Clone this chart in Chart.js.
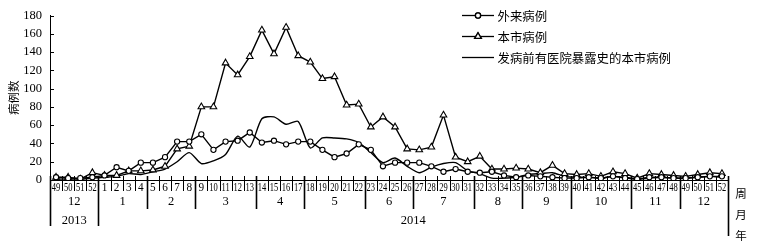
<!DOCTYPE html>
<html><head><meta charset="utf-8">
<script src="https://cdn.jsdelivr.net/npm/chart.js@4/dist/chart.umd.min.js"></script>
<style>html,body{margin:0;padding:0;background:#fff}#wrap{width:757px;height:249px}</style>
</head><body><div id="wrap"><canvas id="c" width="757" height="249"></canvas></div>
<script>
// ---- data ----
const weekLabels = ['49','50','51','52',
 '1','2','3','4','5','6','7','8','9','10','11','12','13','14','15','16','17','18','19','20',
 '21','22','23','24','25','26','27','28','29','30','31','32','33','34','35','36','37','38','39','40',
 '41','42','43','44','45','46','47','48','49','50','51','52'];
const monthLabels = ['12','1','2','3','4','5','6','7','8','9','10','11','12'];
const monthWeekCounts = [4,4,4,5,4,5,4,5,4,4,5,4,4];
const yearLabels = ['2013','2014'];
const yearWeekCounts = [4,52];
const seriesNames = ['外来病例','本市病例','发病前有医院暴露史的本市病例'];
const waiLai = [3,2,2,3,
 5,14,10,19,19,25,42,42,50,33,42,43,52,41,43,39,42,42,33,25,
 29,39,33,15,19,19,19,15,9,12,9,8,9,5,3,5,4,3,2,2,
 3,2,4,2,1,3,3,2,2,3,4,4];
const benShi = [3,3,1,8,
 5,5,10,10,11,15,34,37,80,80,128,115,135,164,138,167,136,129,111,113,
 82,83,58,69,58,34,33,36,71,25,20,26,12,12,13,12,8,16,7,6,
 7,4,9,7,2,7,6,5,4,6,8,7];
const hospital = [1,1,1,2,
 3,4,7,6,9,12,20,30,18,21,28,48,36,67,69,61,64,35,46,46,
 45,41,30,19,24,15,8,14,18,19,10,7,2,2,3,6,7,8,4,3,
 3,2,4,3,1,2,3,2,2,3,4,3];
const yTicks = [0,20,40,60,80,100,120,140,160,180];
const axisUnits = ['周','月','年'];

const NUM_FONT = '"Liberation Serif", "Times New Roman", serif';
const CJK_FONT = '"Noto Sans CJK SC", sans-serif';

const decor = {
  id: 'decor',
  afterDraw(chart) {
    const ctx = chart.ctx, xs = chart.scales.x, ys = chart.scales.y;
    const n = weekLabels.length;
    const bnd = i => i <= 0 ? xs.left : (i >= n ? xs.right : (xs.getPixelForValue(i-1) + xs.getPixelForValue(i)) / 2);
    const axisY = ys.getPixelForValue(0);
    ctx.save();
    ctx.strokeStyle = '#000'; ctx.fillStyle = '#000';
    // inward y ticks
    ctx.lineWidth = 1;
    yTicks.forEach(v => {
      const y = Math.round(ys.getPixelForValue(v)) + 0.5;
      ctx.beginPath(); ctx.moveTo(xs.left, y); ctx.lineTo(xs.left + 4, y); ctx.stroke();
    });
    // separators
    const monthB = new Set(); let acc = 0;
    monthWeekCounts.forEach(c => { acc += c; monthB.add(acc); }); monthB.add(0);
    const yearB = new Set(); acc = 0;
    yearWeekCounts.forEach(c => { acc += c; yearB.add(acc); }); yearB.add(0);
    for (let i = 0; i <= n; i++) {
      const x = Math.round(bnd(i)) + 0.5;
      let y2 = axisY + 11, lw = 1;
      if (monthB.has(i)) { y2 = axisY + 29; lw = 1.6; }
      if (yearB.has(i)) { y2 = axisY + 46; lw = 1.6; }
      if (i === n) y2 = axisY + 56;
      ctx.lineWidth = lw;
      ctx.beginPath(); ctx.moveTo(x, axisY - 4); ctx.lineTo(x, y2); ctx.stroke();
    }
    // week labels (condensed)
    ctx.textAlign = 'center'; ctx.textBaseline = 'middle';
    ctx.font = '12.5px ' + NUM_FONT;
    weekLabels.forEach((w, i) => {
      const cx = xs.getPixelForValue(i);
      ctx.save(); ctx.translate(cx, axisY + 7.5); ctx.scale(w.length > 1 ? 0.68 : 0.9, 1);
      ctx.fillText(w, 0, 0); ctx.restore();
    });
    // month labels
    ctx.font = '12.5px ' + NUM_FONT;
    acc = 0;
    monthLabels.forEach((m, k) => {
      const a = acc, b = acc + monthWeekCounts[k]; acc = b;
      ctx.fillText(m, (bnd(a) + bnd(b)) / 2, axisY + 22);
    });
    // year labels
    acc = 0;
    yearLabels.forEach((yl, k) => {
      const a = acc, b = acc + yearWeekCounts[k]; acc = b;
      ctx.fillText(yl, (bnd(a) + bnd(b)) / 2, axisY + 41);
    });
    // units
    ctx.font = '11.5px ' + CJK_FONT;
    const ux = xs.right + 13;
    [14, 35, 56].forEach((dy, k) => ctx.fillText(axisUnits[k], ux, axisY + dy));
    // legend
    const lx0 = 462, lx1 = 494, tx = 497.5, rows = [15.5, 36.5, 57.5];
    ctx.textAlign = 'left';
    ctx.font = '12.4px ' + CJK_FONT;
    chart.data.datasets.forEach((ds, k) => {
      const y = rows[k];
      ctx.lineWidth = 1.3; ctx.strokeStyle = '#000';
      ctx.beginPath(); ctx.moveTo(lx0, y); ctx.lineTo(lx1, y); ctx.stroke();
      if (ds.pointRadius > 0) {
        Chart.helpers.drawPoint(ctx, {pointStyle: ds.pointStyle, radius: ds.pointRadius, borderWidth: 1, rotation: 0}, (lx0 + lx1) / 2, y);
        ctx.fillStyle = '#fff'; ctx.fill(); ctx.stroke(); ctx.fillStyle = '#000';
      }
      ctx.fillText(ds.label, tx, y + 0.5);
    });
    ctx.restore();
  }
};

const common = {borderColor: '#000', borderWidth: 1.4, pointBackgroundColor: '#fff', pointBorderColor: '#000', pointBorderWidth: 1.1, fill: false, tension: 0};
new Chart(document.getElementById('c'), {
  type: 'line',
  data: {
    labels: weekLabels,
    datasets: [
      Object.assign({label: seriesNames[0], data: waiLai, pointStyle: 'circle', pointRadius: 2.6}, common),
      Object.assign({label: seriesNames[1], data: benShi, pointStyle: 'triangle', pointRadius: 3.8}, common),
      Object.assign({}, common, {label: seriesNames[2], data: hospital, pointRadius: 0, tension: 0.25})
    ]
  },
  options: {
    responsive: false, animation: false,
    layout: {padding: {left: 0, right: 29, top: 13, bottom: 0}},
    plugins: {legend: {display: false}, tooltip: {enabled: false}},
    scales: {
      x: {
        type: 'category', offset: true,
        grid: {display: false, drawTicks: false},
        border: {display: true, color: '#000', width: 1},
        ticks: {display: false},
        afterFit: s => { s.height = 69; }
      },
      y: {
        min: 0, max: 180,
        grid: {display: false, drawTicks: false},
        border: {display: true, color: '#000', width: 1},
        ticks: {stepSize: 20, color: '#000', padding: 8, font: {family: NUM_FONT, size: 12.5}},
        title: {display: true, text: '病例数', color: '#000', font: {family: CJK_FONT, size: 11.5}, padding: {top: 7, bottom: 0}},
        afterFit: s => { s.width = 50; }
      }
    }
  },
  plugins: [decor]
});
</script>
</body></html>
